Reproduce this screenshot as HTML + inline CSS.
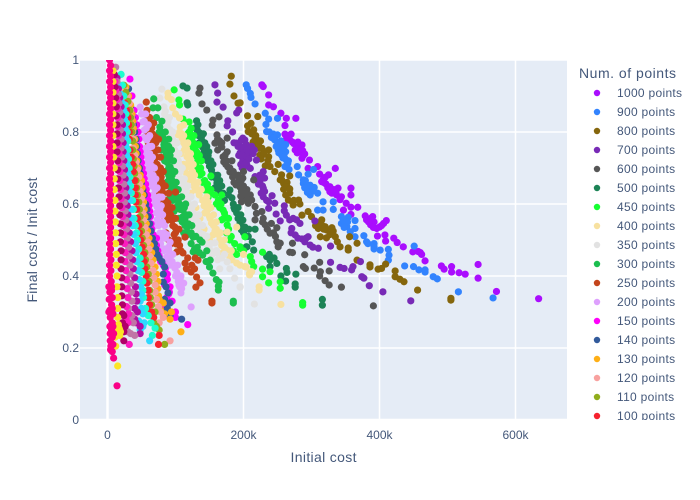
<!DOCTYPE html>
<html>
<head>
<meta charset="utf-8">
<title>Final cost vs initial cost</title>
<style>
html,body{margin:0;padding:0;background:#fff;width:700px;height:500px;overflow:hidden;}
svg{display:block;}
text{font-family:"Liberation Sans",sans-serif;fill:#44587a;}
</style>
</head>
<body>
<svg id="chart" xmlns="http://www.w3.org/2000/svg" width="700" height="500" viewBox="0 0 700 500">
  <defs>
    <clipPath id="plot-clip"><rect x="80" y="60" width="487" height="360"></rect></clipPath>
    <clipPath id="legend-clip"><rect x="570" y="60" width="130" height="360"></rect></clipPath>
  </defs>
  <rect x="80" y="60" width="487" height="360" fill="#E5ECF6"></rect>
  <g id="grid"></g>
  <g id="marks" clip-path="url(#plot-clip)"></g>
  <g id="ticks"></g>
  <text x="323.5" y="462" text-anchor="middle" font-size="14" textLength="66">Initial cost</text>
  <text transform="translate(37,240) rotate(-90)" text-anchor="middle" font-size="14" textLength="125">Final cost / Init cost</text>
  <text x="579" y="78" font-size="14" textLength="97">Num. of points</text>
  <g id="legend" clip-path="url(#legend-clip)"></g>
</svg>
<script>
const xTicks = [0, 200, 400, 600];
const xTickLabels = ["0", "200k", "400k", "600k"];
const yTicks = [0, 0.2, 0.4, 0.6, 0.8, 1];
const yTickLabels = ["0", "0.2", "0.4", "0.6", "0.8", "1"];
const seriesNames = ["1000 points","900 points","800 points","700 points","600 points","500 points","450 points","400 points","350 points","300 points","250 points","200 points","150 points","140 points","130 points","120 points","110 points","100 points","90 points","80 points","70 points","60 points","50 points","40 points","30 points","20 points"];
const seriesColors = ["#AA0DFE","#3283FE","#85660D","#782AB6","#565656","#1C8356","#16FF32","#F7E1A0","#E2E2E2","#1CBE4F","#C4451C","#DEA0FD","#FE00FA","#325A9B","#FEAF16","#F8A19F","#90AD1C","#F6222E","#1CFFCE","#2ED9FF","#B10DA1","#C075A6","#FC1CBF","#B00068","#FBE426","#FA0087"];

// Each point: [initial cost in thousands, final / initial ratio]
const s1000 = [[227,.931],[229,.926],[237,.903],[237,.875],[244,.870],[255,.852],[263,.838],[277,.838],[261,.818],[261,.794],[270,.794],[268,.778],[263,.780],[278,.764],[286,.764],[276,.750],[283,.745],[290,.739],[286,.727],[297,.722],[295,.699],[309,.704],[335,.699],[312,.683],[325,.681],[317,.667],[321,.656],[327,.634],[339,.644],[337,.625],[358,.644],[358,.625],[344,.620],[351,.602],[358,.591],[368,.591],[347,.583],[358,.571],[379,.567],[390,.565],[381,.556],[387,.542],[396,.532],[406,.546],[410,.554],[397,.511],[408,.514],[409,.497],[421,.505],[426,.493],[435,.481],[449,.467],[457,.468],[460,.465],[467,.442],[491,.428],[495,.419],[506,.426],[506,.411],[517,.409],[526,.405],[545,.432],[545,.394],[572,.357],[634,.337],[318,.660],[324,.645],[330,.630],[272,.772],[281,.755],[287,.748],[392,.550],[400,.536],[266,.790],[274,.768],[280,.772],[285,.752],[279,.742],[288,.735],[320,.674],[315,.662],[327,.648],[333,.640],[336,.632],[342,.612],[384,.550],[391,.535],[403,.540],[387,.560],[462,.46]];
const s900 = [[204,.931],[206,.921],[210,.907],[211,.896],[217,.878],[232,.852],[237,.836],[250,.838],[233,.821],[234,.801],[244,.794],[250,.792],[246,.778],[251,.769],[259,.755],[251,.75],[256,.736],[263,.722],[261,.704],[267,.696],[279,.704],[281,.681],[295,.683],[303,.696],[288,.657],[295,.644],[304,.646],[298,.625],[309,.63],[317,.606],[332,.606],[317,.583],[309,.583],[332,.585],[344,.565],[354,.563],[344,.546],[352,.537],[364,.554],[364,.532],[357,.523],[364,.509],[377,.512],[381,.495],[392,.481],[401,.472],[413,.474],[414,.458],[413,.444],[437,.428],[450,.426],[458,.417],[467,.417],[479,.398],[485,.392],[451,.483],[516,.356],[567,.339],[254,.76],[241,.785],[293,.653],[300,.634],[288,.667],[349,.546],[262,.745],[258,.728],[265,.712],[392,.475],[467,.411],[238,.80],[244,.782],[255,.775],[248,.76],[256,.752],[262,.765],[252,.742],[260,.73],[266,.72],[291,.665],[298,.652],[290,.645],[302,.638],[294,.632],[347,.555],[353,.55],[348,.535],[383,.49],[392,.49]];
const s800 = [[182,.955],[180,.933],[186,.90],[192,.88],[195,.881],[206,.845],[221,.843],[206,.817],[211,.824],[215,.806],[207,.801],[217,.782],[222,.764],[215,.752],[224,.736],[237,.75],[237,.731],[232,.706],[239,.704],[251,.71],[246,.69],[256,.681],[268,.678],[254,.667],[261,.653],[259,.641],[268,.63],[266,.611],[281,.611],[273,.597],[283,.6],[286,.569],[295,.579],[300,.565],[315,.556],[310,.532],[320,.537],[330,.534],[313,.509],[322,.506],[335,.509],[338,.495],[342,.481],[356,.509],[367,.491],[354,.472],[367,.444],[386,.431],[403,.421],[409,.433],[423,.414],[423,.398],[430,.391],[436,.384],[456,.361],[505,.333],[505,.338],[220,.778],[227,.755],[315,.542],[259,.657],[225,.775],[230,.745],[264,.66],[272,.605],[322,.528],[354,.478],[386,.425],[398,.419],[212,.795],[218,.79],[214,.772],[222,.755],[230,.738],[226,.725],[236,.72],[256,.668],[264,.648],[268,.642],[262,.625],[274,.61],[312,.548],[318,.53],[306,.54],[327,.515],[332,.525]];
const s700 = [[158,.931],[162,.908],[161,.883],[170,.869],[190,.853],[193,.861],[177,.831],[176,.817],[184,.80],[199,.783],[190,.769],[195,.742],[205,.708],[209,.756],[202,.75],[200,.722],[197,.778],[202,.778],[200,.75],[205,.75],[199,.722],[202,.704],[210,.699],[219,.722],[217,.676],[229,.69],[224,.662],[229,.644],[229,.62],[242,.623],[237,.606],[246,.602],[237,.588],[260,.595],[260,.581],[248,.572],[263,.569],[254,.553],[273,.56],[283,.546],[271,.532],[276,.514],[295,.509],[286,.503],[298,.486],[310,.477],[305,.553],[328,.483],[328,.438],[342,.424],[348,.421],[361,.426],[359,.417],[372,.44],[374,.398],[377,.394],[385,.373],[405,.356],[446,.331],[224,.68],[278,.556],[290,.495],[268,.556],[186,.77],[193,.735],[198,.70],[207,.74],[214,.74],[222,.655],[231,.672],[226,.63],[192,.76],[196,.76],[204,.765],[198,.735],[205,.73],[196,.71],[204,.715],[208,.725],[212,.76],[216,.75],[222,.67],[228,.65],[231,.635],[234,.61],[302,.48],[280,.505],[292,.505],[270,.52]];
const s600 = [[136,.922],[134.5,.908],[139,.878],[146,.861],[155,.833],[164,.842],[154,.819],[161,.792],[176,.783],[158,.769],[168,.758],[170,.731],[177,.703],[184,.675],[199,.672],[195,.647],[202,.619],[212,.611],[200,.69],[197,.667],[215,.667],[200,.625],[197,.606],[207,.602],[217,.593],[219,.574],[227,.579],[217,.556],[229,.56],[232,.542],[241,.546],[239,.519],[249,.534],[249,.495],[254,.491],[251,.481],[268,.466],[272,.465],[272,.491],[290,.459],[288,.426],[291,.421],[304,.422],[312,.438],[313,.412],[312,.4],[326,.414],[320,.387],[326,.375],[344,.369],[391,.317],[173,.736],[180,.689],[189,.653],[192,.68],[206,.625],[162,.75],[171,.717],[183,.72],[165,.775],[174,.71],[185,.69],[192,.66],[205,.64],[210,.625],[188,.68],[197,.635],[176,.745],[167,.765],[162,.78],[168,.77],[175,.72],[180,.70],[186,.66],[194,.67],[200,.65],[202,.635],[206,.612],[196,.622],[228,.55],[235,.53],[244,.52],[247,.51]];
const s500 = [[111,.928],[117,.922],[117,.881],[118,.875],[131,.831],[129,.811],[136,.797],[140,.758],[143,.731],[153,.694],[161,.658],[163,.631],[180,.639],[183,.617],[190,.575],[195,.547],[202,.536],[205,.481],[195,.546],[197,.528],[203,.509],[217,.53],[213,.495],[215,.472],[204,.481],[234,.454],[239,.444],[249,.435],[239,.426],[263,.421],[264,.41],[277,.405],[255,.4],[262,.386],[276,.378],[276,.369],[316,.335],[316,.319],[133,.82],[138,.785],[135,.77],[142,.745],[147,.72],[150,.705],[157,.68],[160,.67],[153,.675],[158,.645],[172,.61],[185,.6],[192,.56],[200,.52],[132,.805],[139,.775],[145,.75],[148,.735],[164,.645],[207,.51],[187,.585],[134,.79],[141,.795],[143,.77],[146,.76],[149,.745],[152,.72],[155,.71],[162,.68],[165,.665],[168,.65],[170,.63],[178,.625],[186,.59],[192,.59],[196,.57],[199,.555],[208,.53],[238,.46],[245,.45]];
const s450 = [[98,.917],[105,.889],[106,.875],[111,.836],[120,.828],[121,.797],[117,.783],[129,.758],[133,.722],[132,.686],[152,.678],[143,.639],[148,.619],[168,.625],[170,.583],[168,.556],[176,.542],[180,.5],[195,.481],[202,.509],[195,.477],[210,.454],[212,.44],[215,.426],[228,.466],[228,.419],[239,.412],[228,.398],[237,.381],[254,.384],[254,.366],[287,.319],[287,.326],[124,.78],[126,.77],[135,.735],[130,.71],[137,.70],[140,.66],[150,.63],[160,.60],[165,.59],[175,.52],[185,.47],[190,.46],[120,.80],[131,.745],[136,.68],[147,.655],[173,.565],[178,.53],[123,.81],[118,.795],[127,.79],[125,.755],[134,.765],[128,.735],[138,.72],[133,.70],[139,.685],[143,.665],[146,.645],[152,.64],[158,.625],[163,.61],[167,.60],[172,.575],[171,.56],[178,.56],[182,.51],[187,.49],[200,.47]];
const s400 = [[89,.908],[89,.897],[96,.867],[106,.839],[107,.814],[104,.792],[114,.764],[117,.731],[121,.703],[121,.667],[129,.639],[146,.603],[143,.575],[153,.547],[155,.514],[176,.522],[190,.536],[176,.472],[180,.453],[190,.436],[204,.425],[209,.408],[200,.46],[202,.426],[209,.403],[212,.412],[223,.37],[223,.361],[255,.321],[112,.77],[118,.745],[124,.71],[125,.69],[130,.655],[135,.625],[140,.61],[150,.565],[160,.53],[165,.50],[183,.445],[110,.78],[120,.72],[117,.68],[127,.65],[148,.585],[170,.465],[195,.43],[106,.80],[109,.795],[113,.75],[116,.755],[119,.735],[122,.725],[118,.705],[123,.685],[125,.67],[128,.655],[133,.64],[142,.595],[148,.605],[146,.58],[151,.56],[156,.54],[158,.525],[163,.515],[168,.485],[172,.48],[94,.89],[100,.85],[112,.82],[112,.79],[118,.77],[122,.74],[126,.71],[128,.68],[133,.66],[138,.64],[146,.62],[152,.59],[156,.57],[160,.55],[166,.52],[172,.50],[182,.47],[102,.77],[108,.74],[112,.71],[114,.69],[116,.66],[122,.63],[130,.59],[136,.56],[142,.53],[150,.50],[160,.47]];
const s350 = [[80,.919],[77,.894],[85,.858],[89,.828],[92,.806],[96,.769],[102,.731],[107,.689],[111,.647],[117,.617],[126,.575],[133,.536],[139,.5],[158,.492],[161,.464],[176,.439],[187,.394],[195,.369],[195,.37],[216,.322],[83,.87],[87,.84],[94,.79],[99,.75],[105,.71],[109,.67],[114,.63],[120,.6],[130,.555],[136,.52],[145,.49],[150,.475],[168,.45],[180,.42],[90,.78],[93,.755],[98,.71],[103,.67],[108,.625],[115,.59],[122,.55],[130,.51],[88,.815],[92,.79],[96,.78],[100,.74],[97,.74],[104,.72],[101,.70],[107,.70],[106,.665],[112,.66],[110,.635],[116,.635],[113,.61],[119,.615],[118,.585],[124,.59],[123,.565],[128,.56],[127,.535],[133,.55],[135,.505],[141,.515],[147,.47],[154,.46],[162,.445],[84,.85],[91,.84],[96,.80],[102,.77],[105,.74],[110,.70],[113,.67],[118,.65],[123,.62],[128,.60],[134,.57],[140,.54],[146,.51],[152,.49],[160,.47],[172,.46],[86,.79],[90,.75],[94,.72],[98,.68],[102,.64],[106,.59],[112,.56],[118,.52],[125,.49],[135,.47],[150,.44],[165,.42]];
const s300 = [[68,.892],[74,.867],[67,.867],[77,.814],[82,.783],[89,.744],[92,.703],[92,.658],[102,.619],[111,.583],[117,.536],[126,.508],[139,.494],[126,.467],[140,.458],[151,.444],[155,.408],[164,.383],[163,.361],[185,.33],[185,.325],[79,.80],[84,.77],[87,.755],[91,.725],[88,.715],[95,.68],[97,.64],[106,.6],[114,.56],[120,.52],[132,.48],[145,.44],[86,.735],[90,.68],[98,.625],[103,.595],[110,.55],[123,.49],[150,.425],[160,.39],[163,.372],[76,.80],[80,.785],[83,.765],[90,.76],[87,.74],[92,.735],[90,.70],[94,.695],[91,.67],[95,.665],[93,.645],[98,.65],[100,.63],[96,.61],[104,.61],[107,.585],[113,.59],[111,.565],[116,.57],[114,.54],[119,.545],[118,.515],[123,.52],[128,.475],[135,.465],[80,.83],[85,.80],[90,.78],[94,.75],[97,.72],[99,.69],[101,.66],[104,.64],[109,.62],[115,.60],[120,.57],[124,.54],[130,.51],[136,.50],[146,.47],[72,.84],[76,.78],[80,.75],[84,.72],[85,.69],[87,.66],[92,.62],[98,.58],[105,.56],[112,.52]];
const s250 = [[57,.883],[60,.842],[65,.811],[65,.778],[74,.75],[70,.714],[77,.686],[77,.647],[89,.603],[87,.575],[99,.536],[99,.5],[114,.508],[101,.489],[102,.467],[111,.464],[114,.436],[123,.411],[131,.397],[136,.381],[130,.369],[153.6,.325],[153.6,.33],[129,.45],[133,.444],[58,.86],[62,.825],[68,.79],[72,.73],[75,.70],[80,.66],[82,.63],[85,.61],[92,.585],[95,.555],[100,.633],[88,.555],[67,.76],[71,.77],[74,.67],[84,.59],[98,.515],[116,.42],[128,.42],[62,.84],[68,.825],[66,.795],[71,.785],[66,.765],[69,.745],[70,.73],[73,.71],[74,.695],[78,.70],[76,.665],[79,.675],[78,.63],[80,.635],[81,.615],[84,.61],[86,.595],[90,.58],[89,.56],[93,.57],[97,.56],[96,.54],[100,.52],[104,.50],[106,.485],[56,.83],[58,.80],[60,.77],[63,.74],[64,.72],[66,.70],[68,.68],[70,.655],[72,.63],[74,.61],[77,.59],[80,.57],[83,.545],[86,.52],[90,.50],[94,.49],[108,.47],[118,.45],[124,.43],[75,.78],[78,.73],[82,.69],[85,.65],[90,.63],[95,.59],[100,.56],[105,.53]];
const s200 = [[48,.869],[52,.85],[52,.828],[58,.778],[58,.731],[62.5,.675],[73,.592],[73,.556],[77,.519],[92,.494],[80,.619],[77,.486],[87,.453],[99,.422],[107,.394],[105,.375],[108,.353],[123,.314],[54,.805],[56,.755],[60,.70],[65,.65],[67,.625],[70,.6],[75,.54],[82,.47],[95,.44],[102,.41],[50,.85],[61,.76],[63,.72],[68,.66],[78,.57],[70,.54],[83,.52],[85,.44],[78,.49],[92,.45],[106,.37],[54,.83],[57,.81],[53,.785],[60,.785],[56,.74],[62,.74],[59,.715],[65,.705],[62,.69],[67,.68],[64,.66],[70,.64],[68,.615],[73,.61],[72,.575],[77,.585],[76,.545],[81,.55],[80,.505],[85,.505],[84,.475],[90,.47],[92,.43],[100,.40],[104,.385],[109,.365],[56,.85],[60,.82],[62,.79],[65,.76],[66,.73],[69,.70],[71,.67],[73,.645],[76,.62],[79,.595],[81,.57],[84,.54],[87,.515],[90,.48],[96,.46],[103,.43],[108,.40],[112,.38]];
const s150 = [[33,.947],[36,.90],[39,.86],[41,.84],[43,.82],[45,.80],[46,.78],[47,.76],[48,.745],[49,.73],[50,.715],[51,.70],[53,.685],[54,.67],[56,.655],[57,.64],[59,.625],[60,.61],[61,.595],[62,.58],[63,.565],[64,.545],[65,.53],[67,.515],[69,.50],[72,.485],[74,.47],[76,.455],[78,.44],[82,.43],[85,.42],[88,.405],[88,.39],[84,.375],[92,.37],[90,.35],[87,.34],[95,.33],[85,.32],[100,.30],[118,.265],[90,.29],[84,.31],[72,.505],[91,.355],[100,.285]];
const s140 = [[31,.92],[34,.87],[36,.84],[38,.82],[40,.80],[42,.78],[43,.76],[44,.74],[45,.72],[47,.70],[48,.685],[50,.66],[52,.64],[54,.625],[56,.60],[58,.585],[60,.565],[62,.545],[64,.525],[66,.505],[69,.49],[71,.475],[73,.46],[76,.45],[80,.44],[84,.425],[82,.405],[82,.383],[86,.37],[89,.353],[84,.335],[92,.29],[109,.28],[88,.31],[83,.30],[92,.325]];
const s130 = [[27,.925],[31,.90],[34,.875],[36,.85],[37,.83],[38,.81],[40,.78],[41,.76],[42,.74],[43,.72],[45,.70],[48,.68],[50,.665],[51,.645],[52,.625],[53,.605],[54,.585],[55,.565],[57,.545],[59,.525],[61,.505],[63,.485],[65,.465],[67,.445],[70,.425],[72,.405],[74,.385],[74,.365],[75,.345],[76,.335],[82,.325],[78,.305],[84,.295],[92,.28],[108,.245],[94,.30]];
const s120 = [[25,.92],[29,.90],[32,.88],[34,.86],[35,.84],[36,.82],[37,.80],[38,.78],[38,.755],[40,.735],[42,.715],[44,.695],[46,.675],[47,.655],[48,.635],[50,.615],[51,.595],[52,.575],[53,.555],[55,.535],[57,.515],[59,.495],[61,.475],[62,.455],[64,.435],[67,.415],[68,.395],[70,.375],[70,.355],[72,.335],[75,.315],[78,.30],[82,.285],[76,.27],[92,.22]];
const s110 = [[24,.93],[27,.91],[30,.885],[33,.86],[34,.84],[35,.82],[36,.80],[37,.775],[37,.75],[38,.725],[39,.705],[40,.685],[42,.665],[43,.645],[44,.625],[46,.605],[47,.585],[48,.565],[49,.545],[50,.525],[51,.505],[53,.485],[55,.465],[56,.445],[58,.425],[60,.405],[61,.385],[62,.36],[63,.34],[65,.32],[70,.30],[68,.27],[72,.26],[76,.25],[84,.21]];
const s100 = [[22,.90],[25,.88],[28,.86],[30,.84],[31,.82],[32,.80],[32,.78],[33,.75],[35,.73],[37,.71],[38,.69],[40,.665],[41,.645],[41,.625],[42,.605],[43,.585],[44,.56],[46,.54],[47,.52],[49,.50],[51,.48],[53,.46],[54,.44],[55,.42],[57,.40],[58,.38],[60,.36],[60,.34],[62,.32],[58,.31],[65,.30],[68,.285],[76,.235],[75,.21]];
const s90 = [[20,.96],[22,.93],[24,.90],[26,.875],[27,.85],[28,.825],[29,.80],[30,.775],[30,.75],[31,.725],[32,.70],[33,.675],[34,.65],[35,.63],[37,.61],[38,.585],[39,.56],[41,.54],[43,.52],[44,.50],[46,.475],[48,.45],[49,.43],[50,.41],[52,.385],[52,.36],[53,.34],[56,.31],[60,.29],[64,.27],[66,.235],[54,.30],[70,.255]];
const s80 = [[16,.93],[19,.905],[22,.88],[24,.86],[25,.835],[26,.81],[27,.785],[27,.76],[28,.735],[29,.71],[30,.685],[31,.66],[32,.635],[33,.61],[34,.585],[35,.56],[37,.54],[39,.515],[41,.49],[42,.465],[43,.44],[45,.415],[47,.39],[49,.37],[50,.35],[48,.33],[50,.31],[52,.295],[46,.275],[54,.27],[62,.22],[48,.25],[52,.26]];
const s70 = [[14,.95],[16,.92],[18,.895],[20,.87],[21,.845],[22,.82],[22,.795],[23,.77],[23,.745],[24,.72],[25,.695],[26,.67],[27,.645],[28,.62],[29,.595],[30,.57],[31,.545],[32,.52],[34,.495],[36,.47],[37,.445],[38,.42],[40,.395],[41,.37],[42,.35],[43,.33],[40,.31],[44,.30],[42,.27],[48,.26],[48,.24],[40,.28]];
const s60 = [[12,.98],[14,.94],[16,.905],[17,.88],[18,.855],[19,.83],[19,.805],[20,.78],[20,.755],[21,.73],[22,.705],[23,.68],[24,.655],[25,.63],[25,.605],[26,.58],[27,.555],[28,.53],[29,.505],[31,.48],[32,.455],[33,.43],[33,.405],[34,.38],[35,.355],[36,.33],[31,.31],[36,.29],[33,.28],[38,.27],[40,.235],[34,.24],[30,.245]];
const s50 = [[11,.94],[12,.915],[14,.89],[15,.865],[15,.84],[15,.815],[16,.79],[16,.765],[17,.74],[17,.715],[18,.69],[18,.665],[19,.64],[20,.615],[21,.59],[22,.565],[23,.54],[24,.515],[25,.49],[26,.465],[26,.44],[27,.415],[28,.39],[29,.365],[30,.34],[28,.315],[31,.295],[27,.28],[30,.27],[32,.21]];
const s40 = [[10,.96],[11,.925],[12,.895],[13,.87],[13,.845],[14,.82],[14,.795],[14,.77],[14,.745],[15,.72],[15,.695],[15,.67],[16,.645],[17,.62],[18,.595],[18,.57],[19,.545],[19,.52],[19,.495],[20,.47],[20,.445],[20,.42],[21,.395],[21,.37],[21,.345],[22,.32],[22,.295],[22,.27],[23,.25],[24,.22],[24,.29],[26,.26],[24,.245]];
const s30 = [[8,.97],[8,.94],[8,.91],[8,.88],[8,.85],[8,.82],[8,.79],[8,.76],[9,.73],[10,.70],[10,.67],[10,.64],[11,.61],[11,.58],[11.5,.55],[12,.52],[12,.49],[13,.46],[13,.43],[14,.40],[14,.37],[15,.34],[15,.31],[15,.285],[16,.265],[17,.255],[18,.25],[14,.255],[11,.23],[12,.205],[15,.15],[17,.24],[18,.235],[19,.245]];
const s20 = [[3,1],[4.5,.985],[3,.97],[4.5,.955],[3,.94],[4.5,.925],[3,.91],[4.5,.895],[3,.88],[4.5,.865],[3,.85],[4.5,.835],[3,.82],[4.5,.805],[3,.79],[4.5,.775],[3,.76],[4.5,.745],[3,.73],[4.5,.715],[3,.70],[4.5,.685],[3,.67],[4.5,.655],[3,.64],[4.5,.625],[3,.61],[4.5,.595],[3,.58],[4.5,.565],[3,.55],[4.5,.535],[3,.52],[4.5,.505],[3,.49],[4.5,.475],[3,.46],[5,.445],[3,.43],[5,.415],[3,.40],[5.5,.385],[2,.37],[6,.37],[3.5,.355],[7,.34],[2.5,.335],[6,.32],[3.5,.305],[8,.295],[4,.285],[7,.27],[3.5,.26],[6,.25],[4,.24],[7,.23],[4,.22],[5,.205],[4.5,.195],[7,.19],[9,.172],[14,.095],[6,.36],[7,.31],[2,.30],[8,.26],[9,.24],[8,.21]];

const seriesData = [s1000,s900,s800,s700,s600,s500,s450,s400,s350,s300,s250,s200,s150,s140,s130,s120,s110,s100,s90,s80,s70,s60,s50,s40,s30,s20];

const NS = 'http://www.w3.org/2000/svg';
function xScale(v) { return 107.5 + v * 0.68; }
function yScale(v) { return 420 - v * 360; }
function make(tag, attrs) {
  const el = document.createElementNS(NS, tag);
  for (const k in attrs) el.setAttribute(k, attrs[k]);
  return el;
}

const grid = document.getElementById('grid');
const tickLayer = document.getElementById('ticks');
xTicks.forEach(function (t, i) {
  const line = make('line', {x1: xScale(t), x2: xScale(t), y1: 60, y2: 420, stroke: '#fff', 'stroke-width': t === 0 ? 2.5 : 1.5});
  
  
  grid.appendChild(line);
  const label = make('text', {x: xScale(t), y: 439, 'text-anchor': 'middle', 'font-size': 12});
  
  
  label.textContent = xTickLabels[i];
  tickLayer.appendChild(label);
});
yTicks.forEach(function (t, i) {
  const line = make('line', {x1: 80, x2: 567, y1: yScale(t), y2: yScale(t), stroke: '#fff', 'stroke-width': t === 0 ? 2.5 : 1.5});
  
  
  grid.appendChild(line);
  const label = make('text', {x: 79, y: yScale(t) + 4, 'text-anchor': 'end', 'font-size': 12});
  
  
  label.textContent = yTickLabels[i];
  tickLayer.appendChild(label);
});

const marks = document.getElementById('marks');
seriesData.forEach(function (points, i) {
  const group = make('g', {fill: seriesColors[i]});
  
  
  points.forEach(function (p) {
    const dot = make('circle', {cx: xScale(p[0]), cy: yScale(p[1]), r: 3.6});
    
    
    group.appendChild(dot);
  });
  marks.appendChild(group);
});

const legend = document.getElementById('legend');
seriesNames.slice(0, 18).forEach(function (name, i) {
  const rowY = 93 + i * 19;
  const entry = make('g', {});
  
  
  const swatch = make('circle', {cx: 597, cy: rowY, r: 3.2, fill: seriesColors[i]});
  
  
  const label = make('text', {x: 617, y: rowY + 4, 'font-size': 12, 'letter-spacing': 0.3});
  
  
  label.textContent = name;
  entry.appendChild(swatch);
  entry.appendChild(label);
  legend.appendChild(entry);
});
</script>
</body>
</html>
